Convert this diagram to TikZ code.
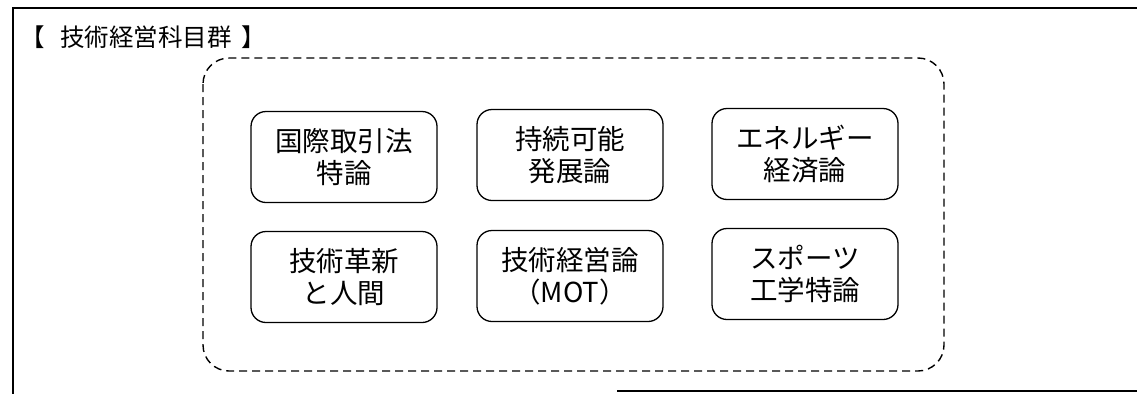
\documentclass[tikz,border=0pt]{standalone}
\usepackage{fontspec}
\newfontfamily\jp{Noto Sans CJK JP}
\begin{document}
\begin{tikzpicture}[x=1pt,y=-1pt,
  frame/.style={line width=1.4pt},
  groupbox/.style={line width=1.4pt, dash pattern=on 8pt off 5pt, rounded corners=26pt},
  course/.style={draw, line width=1.3pt, rounded corners=15pt, minimum width=186pt, minimum height=91pt,
    align=center, inner sep=0pt, font=\jp\fontsize{27.5}{32}\selectfont},
  titletext/.style={anchor=west, inner sep=0pt, font=\jp\fontsize{24.5}{28}\selectfont}]
\useasboundingbox (0,0) rectangle (1137,394);
% outer frame
\coordinate (tr) at (1137,8);
\coordinate (tl) at (13,8);
\coordinate (bl) at (13,394);
\coordinate (bs) at (617,391);
\coordinate (be) at (1137,391);
\draw[frame] (tr) -- (tl) -- (bl);
\draw[frame] (bs) -- (be);
% title
\node[titletext] (title) at (20,37) {\makebox[40pt][l]{【}技術経営科目群\hspace{10pt}】};
% dashed group
\draw[groupbox] (203,58) rectangle (944,371);
% courses
\node[course] (c1) at (344,157) {国際取引法\\特論};
\node[course] (c2) at (570,155) {持続可能\\発展論};
\node[course] (c3) at (805,154) {エネルギー\\経済論};
\node[course] (c4) at (344,277) {技術革新\\と人間};
\node[course] (c5) at (570,276) {技術経営論\\（MOT）};
\node[course] (c6) at (805,274) {スポーツ\\工学特論};
\end{tikzpicture}
\end{document}
